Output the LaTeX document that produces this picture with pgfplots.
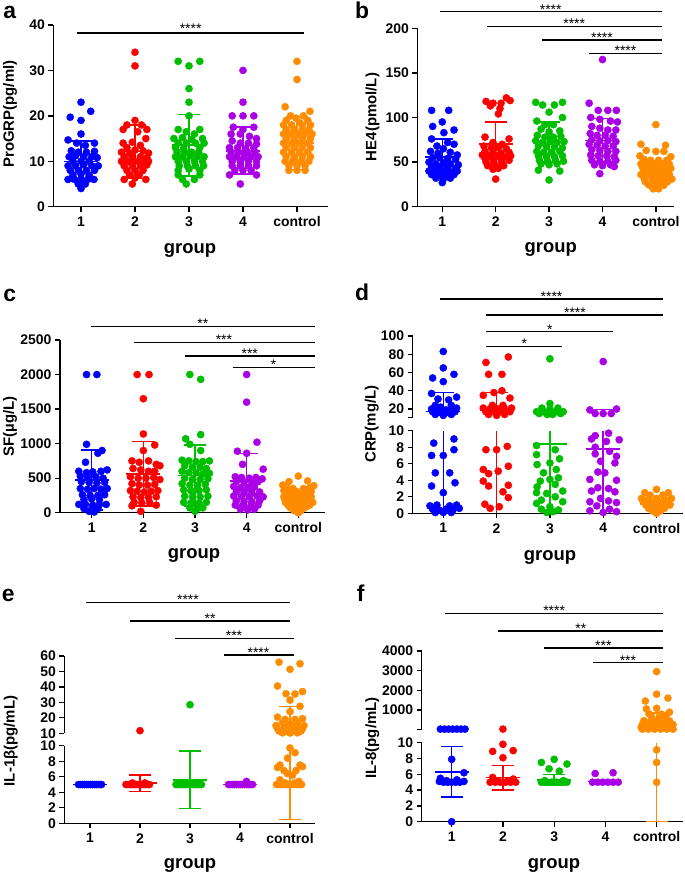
\documentclass[border=0pt]{standalone}
\usepackage{fontspec}
\setmainfont{Liberation Sans}
\usepackage{pgfplots}
\pgfplotsset{compat=1.18}

\definecolor{cb}{RGB}{0,0,255}
\definecolor{cr}{RGB}{255,0,0}
\definecolor{cg}{RGB}{0,190,0}
\definecolor{cp}{RGB}{170,0,230}
\definecolor{co}{RGB}{255,140,0}

\pgfplotsset{
  common/.style={scale only axis, anchor=south west, clip=false,
    axis line style={line width=1.3bp, black},
    x axis line style={-}, y axis line style={-},
    every inner x axis line/.append style={-}, every outer x axis line/.append style={-},
    every inner y axis line/.append style={-}, every outer y axis line/.append style={-},
    tick align=outside, major tick length=5bp,
    tick style={black, line width=1.3bp},
    tick label style={font=\bfseries\fontsize{14}{14}\selectfont},
    xticklabel style={yshift=-1.5bp},
    xtick={1,2,3,4,5}, xticklabels={1,2,3,4,control},
    scaled y ticks=false},
  lowerax/.style={axis lines=left, common},
  upperax/.style={axis y line=left, axis x line=none, common, xtick=\empty},
  dots/.style={only marks, mark=*, mark size=3.6bp, color=#1, mark options={solid, fill=#1, draw=#1}},
  sd/.style={color=#1, line width=1.5bp, mark=-, mark size=11bp, mark options={solid}},
  cap/.style={color=#1, only marks, line width=1.5bp, mark=-, mark size=11bp},
  mean/.style={color=#1, only marks, line width=1.5bp, mark=-, mark size=17bp},
  vline/.style={color=#1, line width=1.5bp, mark=none},
}
\tikzset{
  sig/.style={black, line width=1.3bp},
  stars/.style={font=\fontsize{14}{14}\selectfont, anchor=base, inner sep=0pt, yshift=-2.3bp},
  ylab/.style={rotate=90, font=\bfseries\fontsize{15}{15}\selectfont},
  grp/.style={font=\bfseries\fontsize{18.5}{18.5}\selectfont},
  letter/.style={font=\bfseries\fontsize{23}{23}\selectfont, anchor=base west, inner sep=0pt},
}

\begin{document}
\begin{tikzpicture}
\useasboundingbox (0bp,0bp) rectangle (685bp,-875bp);

% ---------------- a ----------------
\begin{axis}[lowerax, at={(53.3bp,-206.7bp)}, width=274.7bp, height=181.7bp,
  xmin=0.487, xmax=5.574, ymin=0, ymax=40,
  ytick={0,10,20,30,40}, yticklabels={0,10,20,30,40}]
\addplot[dots=cb] coordinates {(1,23)(1.18,21)(0.8,19.7)(1,19)(1,16)
 (0.76,14.7)(1.25,14)(0.92,14)(1.08,13.5)(0.82,12.3)(0.95,12)(1.1,12)(1.25,12.2)
 (0.78,11)(0.9,11.2)(1.05,11)(1.2,11)(1.3,10.8)(0.85,10)(1,10)(1.15,10)
 (0.76,9)(0.9,9)(1.05,9.2)(1.2,9)(1.32,9)(0.8,8)(0.95,8)(1.1,8)(1.25,8)
 (0.85,7)(1,7.2)(1.15,7)(0.76,6)(0.88,6)(1,6)(1.12,6)(1.24,6)(0.95,5)(1.08,5)(1,4)};
\addplot[dots=cr] coordinates {(2,34)(2,31)(2,19)(1.85,18)(2.12,18)(1.78,17)(2.22,17)(2.05,16.5)
 (2.2,15)(1.78,14)(1.95,14.2)(2.1,13.5)(1.85,13)(2,12.5)(2.15,12.3)(1.75,12)(1.9,11.8)(2.25,11.8)
 (1.8,11)(1.95,11)(2.1,11)(2.22,10.8)(1.75,10)(1.88,10)(2,10)(2.12,10)(2.25,10)
 (1.8,9)(1.95,9)(2.1,9)(2.22,9.2)(1.85,8)(2,8)(2.15,8)(1.9,7)(2.08,7)(1.8,6)(2.2,6)(2,6.3)(1.95,5)};
\addplot[dots=cg] coordinates {(2.8,32)(3,31)(3.2,32)(3,26)(3,23)(3,20)
 (2.8,17)(3.2,17)(2.95,16.5)(3.1,16)(2.72,15)(2.88,15.2)(3.25,15)(3.05,14.8)
 (2.8,14)(2.95,14)(3.12,14)(3.28,14)(2.75,13)(2.9,12.8)(3.2,13)
 (2.78,12)(2.92,12)(3.05,12)(3.18,12)(2.75,11)(2.88,11)(3.02,11.2)(3.15,11)(3.28,11)
 (2.8,10)(2.95,10)(3.1,10)(3.25,10)(2.82,9)(2.97,9)(3.12,9)(3.27,9)
 (2.8,8)(3.2,8)(3,8.3)(2.8,7)(3.2,7)(2.88,6)(3.1,6)(2.95,5)};
\addplot[dots=cp] coordinates {(4,30)(4,23)(3.8,20)(4,20)(4.2,20)(3.82,17.5)(4.2,17.5)(4,17)
 (3.78,16)(3.95,16)(4.12,15.5)(4.25,15)(3.8,14.5)(3.95,14)(4.1,14)(4.25,13.8)
 (3.75,13)(3.9,13)(4.05,12.8)(4.2,13)(3.78,12)(3.92,12)(4.08,12)(4.22,12)
 (3.75,11)(3.88,11)(4.02,11)(4.15,11)(4.28,11)(3.8,10)(3.95,10)(4.1,10)(4.25,10)
 (3.8,9)(3.95,9)(4.1,9)(4.25,9)(3.85,8)(4,8)(4.15,8)(3.75,7)(4.25,7)(3.95,5)};
\addplot[dots=co] coordinates {(5,32)(5,28)(4.78,22)(5.24,21)(4.88,20)(5.12,20)(4.98,19.5)
 (4.8,19)(5.2,19)(5.05,18.5)(4.75,18)(4.9,18)(5.1,18)(5.25,18)(4.8,17)(4.95,17)(5.1,17)(5.22,17)
 (4.75,16)(4.88,16)(5.02,16)(5.15,16)(5.28,16)(4.8,15)(4.95,15)(5.1,15)(5.25,15)
 (4.75,14)(4.9,14)(5.05,14)(5.2,14)(4.8,13)(4.95,13)(5.1,13)(5.25,13)
 (4.75,12)(4.9,12)(5.05,12)(5.2,12)(4.8,11)(4.95,11)(5.1,11)(5.25,11)
 (4.78,10)(4.92,10)(5.08,10)(5.22,10)(4.85,9)(5,9)(5.15,9)(4.85,8)(5,8)(5.15,8)};
\addplot[sd=cb] coordinates {(1,5.5)(1,14.5)};
\addplot[mean=cb] coordinates {(1,10)};
\addplot[sd=cr] coordinates {(2,6.2)(2,18)};
\addplot[mean=cr] coordinates {(2,12.2)};
\addplot[sd=cg] coordinates {(3,6.8)(3,20.3)};
\addplot[mean=cg] coordinates {(3,13.6)};
\addplot[sd=cp] coordinates {(4,7.2)(4,17.5)};
\addplot[mean=cp] coordinates {(4,12.3)};
\addplot[sd=co] coordinates {(5,8.2)(5,19.8)};
\addplot[mean=co] coordinates {(5,14)};
\draw[sig, line width=2.5bp] (axis cs:0.92,38.2) -- (axis cs:5.13,38.2);
\node[stars] at (axis cs:3.03,38.6) {****};
\end{axis}

% ---------------- b ----------------
\begin{axis}[lowerax, at={(417.3bp,-206.7bp)}, width=256.2bp, height=178.4bp,
  xmin=0.532, xmax=5.33, ymin=0, ymax=200,
  ytick={0,50,100,150,200}, yticklabels={0,50,100,150,200}]
\addplot[dots=cb] coordinates {(0.8,108)(1.12,108)(1,95)(0.82,90)(1.22,86)(1.03,83)
 (0.8,76)(1.1,72)(1.22,70)(0.9,68)(1.02,65)(0.78,62)(0.92,60)(1.15,61)(1.28,58)
 (0.82,55)(0.95,55)(1.1,54)(1.25,53)(0.75,50)(0.88,48)(1.02,49)(1.15,48)(1.3,47)
 (0.8,45)(0.95,44)(1.1,44)(1.25,43)(0.75,40)(0.88,40)(1.02,40)(1.15,39)(1.28,40)
 (0.8,36)(0.95,35)(1.1,35)(1.22,36)(0.88,32)(1.02,31)(1.15,32)(1,27)};
\addplot[dots=cr] coordinates {(1.82,118)(1.95,116)(2.2,122)(2.1,116)(2.27,119)(1.9,113)(2.08,110)(2.05,104)
 (1.8,78)(2.25,76)(1.95,72)(2.12,70)(1.78,68)(1.92,66)(2.05,66)(2.2,65)
 (1.8,62)(1.95,61)(2.1,60)(2.25,61)(1.75,58)(1.88,57)(2.02,57)(2.15,56)(2.28,57)
 (1.8,54)(1.95,53)(2.1,53)(2.25,52)(1.82,50)(1.97,49)(2.12,49)(1.85,46)(2,45)(2.15,46)
 (1.95,42)(2.05,43)(2,31)};
\addplot[dots=cg] coordinates {(2.75,117)(2.88,114)(3.1,114)(3.25,117)(3,106)(3.25,100)(2.77,96)
 (2.92,92)(3.08,92)(2.85,87)(3.2,85)(3,84)(2.78,80)(2.92,78)(3.08,78)(3.22,79)
 (2.75,74)(2.88,72)(3.02,73)(3.15,72)(3.28,73)(2.8,68)(2.95,67)(3.1,67)(3.25,66)
 (2.77,62)(2.9,61)(3.05,61)(3.2,62)(2.8,57)(2.95,56)(3.1,56)(3.25,57)
 (2.82,52)(2.97,51)(3.12,52)(3.27,51)(2.85,48)(3,47)(3.15,48)(2.8,41)(3.2,40)(3,30)};
\addplot[dots=cp] coordinates {(4,165)(3.75,116)(3.92,108)(4.1,108)(4.26,108)
 (3.78,100)(3.95,98)(4.15,96)(4.28,95)(3.8,90)(3.95,88)(4.1,86)(4.25,86)
 (3.77,82)(3.9,80)(4.05,80)(4.2,79)(3.8,75)(3.95,74)(4.1,74)(4.25,73)
 (3.75,70)(3.9,69)(4.05,68)(4.2,68)(3.8,64)(3.95,63)(4.1,62)(4.25,62)
 (3.78,58)(3.92,57)(4.08,57)(4.22,56)(3.8,52)(3.95,51)(4.1,51)(4.25,52)
 (3.85,47)(4,46)(4.15,47)(4.22,45)(3.95,37)};
\addplot[dots=co] coordinates {(5,92)(4.72,70)(5.18,69)(4.82,63)(5,62)(5.15,62)(4.7,57)(5.28,56)
 (4.78,53)(4.9,52)(5.05,52)(5.2,52)(4.72,48)(4.85,48)(4.98,47)(5.12,47)(5.25,48)
 (4.75,44)(4.88,44)(5.02,44)(5.15,44)(5.28,43)(4.78,40)(4.92,40)(5.05,40)(5.18,40)
 (4.72,36)(4.85,36)(4.98,36)(5.12,36)(5.25,36)(4.78,32)(4.92,32)(5.05,32)(5.18,32)(5.3,31)
 (4.8,28)(4.95,28)(5.1,28)(5.22,28)(4.88,24)(5.02,24)(5.15,24)(4.95,20)(5.05,20)};
\addplot[sd=cb] coordinates {(1,35)(1,76)};
\addplot[mean=cb] coordinates {(1,55.5)};
\addplot[sd=cr] coordinates {(2,46)(2,95)};
\addplot[mean=cr] coordinates {(2,70.5)};
\addplot[sd=cg] coordinates {(3,50)(3,95)};
\addplot[mean=cg] coordinates {(3,73)};
\addplot[sd=cp] coordinates {(4,50)(4,99)};
\addplot[mean=cp] coordinates {(4,74)};
\addplot[sd=co] coordinates {(5,23)(5,52)};
\addplot[mean=co] coordinates {(5,37.5)};
\draw[sig] (axis cs:0.957,218.6) -- (axis cs:5.11,218.6);
\node[stars] at (axis cs:3.03,218.6) {****};
\draw[sig] (axis cs:1.83,201.8) -- (axis cs:5.11,201.8);
\node[stars] at (axis cs:3.47,201.8) {****};
\draw[sig] (axis cs:2.87,186.9) -- (axis cs:5.11,186.9);
\node[stars] at (axis cs:3.99,186.9) {****};
\draw[sig] (axis cs:3.75,171.9) -- (axis cs:5.11,171.9);
\node[stars] at (axis cs:4.43,171.9) {****};
\end{axis}

% ---------------- c ----------------
\begin{axis}[lowerax, at={(60bp,-512.7bp)}, width=265bp, height=172.7bp,
  xmin=0.386, xmax=5.517, ymin=0, ymax=2500,
  ytick={0,500,1000,1500,2000,2500}, yticklabels={0,500,1000,1500,2000,2500}]
\addplot[dots=cb] coordinates {(0.9,2000)(1.1,2000)(0.9,990)(1.2,900)(1.12,860)(0.88,730)
 (0.75,600)(0.9,580)(1.02,590)(1.18,600)(1.3,620)(0.78,530)(0.92,510)(1.08,520)(1.22,500)
 (0.8,450)(0.95,440)(1.1,430)(1.25,440)(0.78,350)(0.92,340)(1.05,350)(1.18,340)(1.3,350)
 (0.82,260)(0.97,250)(1.12,250)(1.25,260)(0.85,190)(1,200)(1.15,190)
 (0.75,120)(0.88,120)(1.02,110)(1.15,120)(1.28,120)(0.85,60)(1,50)(1.12,60)(0.95,20)(1.05,10)};
\addplot[dots=cr] coordinates {(1.88,2000)(2.11,2000)(2,1650)(2,1140)(2.22,980)(2,900)
 (1.78,750)(1.92,730)(2.1,750)(2.25,700)(2.32,680)(1.8,640)(1.95,620)(2.1,600)(2.22,600)
 (1.75,520)(1.9,500)(2.05,500)(2.2,510)(2.32,480)(1.78,420)(1.92,400)(2.08,400)(2.22,410)
 (1.75,320)(1.88,310)(2.02,300)(2.15,310)(2.28,320)(1.8,230)(1.95,220)(2.1,220)(2.25,230)
 (1.82,150)(1.97,140)(2.12,150)(1.78,100)(2.25,110)(1.95,20)};
\addplot[dots=cg] coordinates {(2.9,2000)(3.11,1930)(3.11,1130)(2.82,1070)(2.9,990)(3.11,900)
 (2.75,760)(2.88,750)(3.02,740)(3.15,740)(3.28,750)(2.8,680)(2.95,660)(3.1,660)(3.22,640)
 (2.75,600)(2.88,580)(3.02,580)(3.15,560)(3.28,570)(2.8,500)(2.95,480)(3.1,480)(3.25,490)
 (2.75,420)(2.9,400)(3.05,400)(3.2,410)(2.78,330)(2.92,320)(3.08,320)(3.22,330)
 (2.8,240)(2.95,230)(3.1,230)(3.25,240)(2.78,150)(2.92,140)(3.08,140)(3.22,150)
 (2.9,70)(3.05,60)(3.15,70)(3,20)};
\addplot[dots=cp] coordinates {(4,2000)(4,1600)(4.2,1020)(3.82,890)(4,860)(3.92,700)(4.32,630)
 (3.78,520)(3.9,510)(4.05,500)(4.18,510)(4.3,490)(3.8,450)(3.95,440)(4.1,430)(4.22,450)
 (3.75,380)(3.88,360)(4.02,360)(4.15,370)(3.8,300)(3.95,290)(4.1,290)(4.25,300)
 (3.75,240)(3.9,230)(4.05,230)(4.2,240)(4.32,230)(3.8,170)(3.95,160)(4.1,160)(4.25,170)
 (3.78,110)(3.92,100)(4.08,100)(4.22,110)(3.88,50)(4.02,40)(4.15,50)};
\addplot[dots=co] coordinates {(5,530)(4.82,450)(5.18,460)(4.7,400)(5.3,390)
 (4.78,360)(4.9,350)(5.1,350)(5.22,360)(4.72,320)(4.85,310)(4.98,300)(5.12,300)(5.25,310)
 (4.78,270)(4.92,260)(5.05,260)(5.18,270)(4.72,230)(4.85,220)(4.98,220)(5.12,220)(5.25,230)
 (4.78,190)(4.92,180)(5.05,180)(5.18,190)(4.75,150)(4.88,140)(5.02,140)(5.15,140)(5.28,150)
 (4.8,110)(4.95,100)(5.1,100)(5.22,110)(4.85,70)(4.98,60)(5.12,70)(4.92,30)(5.05,30)(5,0)};
\addplot[sd=cb] coordinates {(1,40)(1,905)};
\addplot[mean=cb] coordinates {(1,473)};
\addplot[sd=cr] coordinates {(2,100)(2,1030)};
\addplot[mean=cr] coordinates {(2,560)};
\addplot[sd=cg] coordinates {(3,100)(3,980)};
\addplot[mean=cg] coordinates {(3,540)};
\addplot[sd=cp] coordinates {(4,60)(4,860)};
\addplot[mean=cp] coordinates {(4,460)};
\addplot[sd=co] coordinates {(5,50)(5,300)};
\addplot[mean=co] coordinates {(5,175)};
\draw[sig] (axis cs:0.98,2693) -- (axis cs:5.32,2693);
\node[stars] at (axis cs:3.15,2693) {**};
\draw[sig] (axis cs:1.81,2461) -- (axis cs:5.32,2461);
\node[stars] at (axis cs:3.56,2461) {***};
\draw[sig] (axis cs:2.81,2269) -- (axis cs:5.32,2269);
\node[stars] at (axis cs:4.06,2269) {***};
\draw[sig] (axis cs:3.73,2105) -- (axis cs:5.32,2105);
\node[stars] at (axis cs:4.52,2105) {*};
\end{axis}

% ---------------- d (lower) ----------------
\begin{axis}[lowerax, at={(412.7bp,-513.3bp)}, width=270.3bp, height=82.6bp,
  xmin=0.426, xmax=5.497, ymin=0, ymax=10,
  ytick={0,2,4,6,8,10}, yticklabels={0,2,4,6,8,10}]
\addplot[dots=cb] coordinates {(1.2,9)(0.82,8.5)(1.2,7.7)(0.78,7)(1,7)
 (0.85,4.9)(1.12,4.9)(1.22,3.7)(0.78,3.3)(1,2.5)(0.75,0.9)(0.88,1)(1.12,0.9)(1.25,1)
 (0.8,0.5)(0.92,0.4)(1.05,0.5)(1.18,0.4)(1.3,0.6)(0.85,0.1)(1,0.1)(1.15,0.1)};
\addplot[dots=cr] coordinates {(1.8,7.7)(2,7.7)(2.2,8.1)(1.75,5.3)(2.22,5.7)(1.85,4.8)(2.03,5.1)
 (1.75,3.9)(1.85,3.3)(2.22,3.4)(2.12,2.6)(2.22,1.9)(1.78,1.1)(2.05,0.8)(1.88,0.6)};
\addplot[dots=cg] coordinates {(2.75,8.2)(3.1,7.7)(2.75,7.1)(3.18,6.6)(3,6.1)(2.76,5.9)
 (3.12,5.3)(2.88,4.9)(3.16,4.3)(3,4.1)(2.82,3.9)(3.1,3.5)(2.76,3.2)(3.24,2.7)(2.75,2.5)
 (2.94,2.4)(3.1,2)(2.84,1.6)(3.24,1.4)(2.75,1.2)(3,0.8)(2.84,0.5)(3.16,0.4)(2.94,0.1)(3.06,0.2)};
\addplot[dots=cp] coordinates {(4.1,9.7)(3.85,9.4)(3.78,9)(4.3,8.9)(4.06,8.7)(3.85,8)(4.12,7.5)
 (3.85,7.2)(4.25,6.9)(3.95,6.3)(4.22,6.1)(3.9,5)(4.03,4.9)(3.75,4.1)(4.25,4)(3.9,3.1)(4.1,3)
 (3.78,2.7)(4.22,2.6)(3.95,1.8)(4.1,1.5)(3.75,1.4)(4.25,1.3)(3.88,0.9)(4.12,0.5)(3.75,0.3)(4.25,0.2)(4,0.1)};
\addplot[dots=co] coordinates {(5,2.9)(4.78,2.5)(5.22,2.5)(4.88,2.2)(5.12,2.2)
 (4.72,1.8)(4.85,1.7)(5,1.8)(5.15,1.7)(5.28,1.8)(4.75,1.4)(4.9,1.3)(5.05,1.3)(5.2,1.4)
 (4.8,1)(4.95,1)(5.1,1)(5.25,1)(4.85,0.6)(5,0.6)(5.15,0.6)(4.92,0.3)(5.08,0.3)(5,0)};
\addplot[vline=cb] coordinates {(1,0)(1,10)};
\addplot[vline=cr] coordinates {(2,0)(2,10)};
\addplot[vline=cg] coordinates {(3,0)(3,10)};
\addplot[mean=cg] coordinates {(3,8.4)};
\addplot[vline=cp] coordinates {(4,0)(4,10)};
\addplot[mean=cp] coordinates {(4,7.8)};
\addplot[sd=co] coordinates {(5,0.6)(5,1.6)};
\addplot[mean=co] coordinates {(5,1.1)};
\end{axis}

% ---------------- d (upper) ----------------
\begin{axis}[upperax, at={(412.7bp,-417.2bp)}, width=270.3bp, height=81.2bp,
  xmin=0.426, xmax=5.497, ymin=11, ymax=100,
  ytick={11,20,40,60,80,100}, yticklabels={,20,40,60,80,100}]
\addplot[dots=cb] coordinates {(1,83)(1,65)(0.8,54)(1.2,58)(1,50)
 (0.78,37)(0.9,31)(1.25,33)(1.1,30)(0.85,24)(1.15,24)(0.95,22)(1.25,21)
 (0.78,20)(0.92,19)(1.05,19)(1.18,20)(0.8,17)(0.95,16)(1.1,16)(1.22,17)(0.85,14)(1,13)(1.15,14)};
\addplot[dots=cr] coordinates {(2.22,77)(1.8,71)(1.85,58)(2.1,58)
 (2.1,40)(1.95,38)(1.75,35)(2.25,32)(1.92,24)(2.12,24)
 (1.75,21)(1.88,20)(2.02,20)(2.15,20)(2.28,21)(1.8,17)(1.95,17)(2.1,17)(2.25,17)(1.85,14)(2,13)(2.15,14)};
\addplot[dots=cg] coordinates {(3,75)(3,26)(2.85,21)(3.15,21)(3,20)
 (2.75,17)(2.88,17)(3.12,17)(3.25,17)(2.8,15)(3.2,15)(2.95,14)(3.05,14)};
\addplot[dots=cp] coordinates {(4,72)(3.75,19)(4.25,20)(3.85,15)(4,15)(4.15,15)};
\addplot[vline=cb] coordinates {(1,11)(1,38)};
\addplot[cap=cb] coordinates {(1,38)};
\addplot[mean=cb] coordinates {(1,17)};
\addplot[vline=cr] coordinates {(2,11)(2,38)};
\addplot[cap=cr] coordinates {(2,38)};
\addplot[mean=cr] coordinates {(2,18.5)};
\addplot[vline=cg] coordinates {(3,11)(3,19)};
\addplot[cap=cg] coordinates {(3,19)};
\addplot[vline=cp] coordinates {(4,11)(4,19.6)};
\addplot[cap=cp] coordinates {(4,19.6)};
\draw[sig] (axis cs:0.94,140.6) -- (axis cs:5.13,140.6);
\node[stars] at (axis cs:3.03,140.6) {****};
\draw[sig] (axis cs:1.81,123) -- (axis cs:5.13,123);
\node[stars] at (axis cs:3.47,123) {****};
\draw[sig] (axis cs:1.81,104.7) -- (axis cs:4.18,104.7);
\node[stars] at (axis cs:3,104.7) {*};
\draw[sig] (axis cs:1.81,88.3) -- (axis cs:3.22,88.3);
\node[stars] at (axis cs:2.52,88.3) {*};
\end{axis}

% ---------------- e (lower) ----------------
\begin{axis}[lowerax, at={(64.3bp,-823.3bp)}, width=250.7bp, height=77.6bp,
  xmin=0.486, xmax=5.5, ymin=0, ymax=10,
  ytick={0,2,4,6,8,10}, yticklabels={0,2,4,6,8,10}]
\addplot[dots=cb] coordinates {(0.77,5)(0.81,5)(0.85,5)(0.89,5)(0.93,5)(0.97,5)(1.01,5)(1.05,5)(1.09,5)(1.13,5)(1.17,5)(1.21,5)(1.23,5)};
\addplot[dots=cr] coordinates {(1.72,5)(1.76,5)(1.8,5)(1.84,5)(1.88,5)(1.92,5)(1.96,5)(2,5)(2.04,5)(2.08,5)(2.12,5)(2.16,5)(2.19,5)(1.85,5.2)(2.1,5.2)};
\addplot[dots=cg] coordinates {(2.72,5)(2.76,5)(2.8,5)(2.84,5)(2.88,5)(2.92,5)(2.96,5)(3,5)(3.04,5)(3.08,5)(3.12,5)(3.16,5)(3.2,5)(3.23,5)};
\addplot[dots=cp] coordinates {(3.77,5)(3.81,5)(3.85,5)(3.89,5)(3.93,5)(3.97,5)(4.01,5)(4.05,5)(4.09,5)(4.13,5)(4.17,5)(4.21,5)(4.25,5)(4.13,5.4)};
\addplot[dots=co] coordinates {(5,9.7)(5.1,9.1)(4.95,8.4)(4.8,7.5)(5.2,7.5)(4.75,7.2)(4.88,6.8)(5.12,6.8)
 (5.25,7.3)(4.95,6.4)(5.05,6.2)(4.8,5.6)(5.18,5.4)(4.9,5.2)(5.1,5.2)
 (4.73,5)(4.78,5)(4.83,5)(4.88,5)(4.93,5)(4.98,5)(5.03,5)(5.08,5)(5.13,5)(5.18,5)(5.23,5)};
\addplot[mean=cb] coordinates {(1,5)};
\addplot[sd=cr] coordinates {(2,4.1)(2,6.2)};
\addplot[mean=cr] coordinates {(2,5.2)};
\addplot[sd=cg] coordinates {(3,1.9)(3,9.3)};
\addplot[mean=cg] coordinates {(3,5.6)};
\addplot[mean=cp] coordinates {(4,5)};
\addplot[vline=co] coordinates {(5,0.5)(5,10)};
\addplot[cap=co] coordinates {(5,0.5)};
\end{axis}

% ---------------- e (upper) ----------------
\begin{axis}[upperax, at={(64.3bp,-733.3bp)}, width=250.7bp, height=77.3bp,
  xmin=0.486, xmax=5.5, ymin=10, ymax=60,
  ytick={10,20,30,40,50,60}, yticklabels={10,20,30,40,50,60}]
\addplot[dots=cr] coordinates {(2,11.7)};
\addplot[dots=cg] coordinates {(3,28.5)};
\addplot[dots=co] coordinates {(4.78,56)(5.2,55)(5,51.4)(4.75,40.6)(5.25,37)(4.92,35.6)(5.1,35.4)(5,31.5)(5.2,27.5)(5,24)
 (4.75,20.5)(5.25,19.5)(4.9,19)(5.1,19)(4.85,17)(5.15,16.5)(5,16)(4.72,15)(5.28,15)(4.9,14.5)(5.1,14.5)
 (4.75,13)(4.88,12.8)(5,13)(5.12,12.8)(5.25,13)(4.78,11.5)(4.92,11.3)(5.08,11.3)(5.22,11.5)
 (4.85,10.3)(5,10.2)(5.15,10.3)};
\addplot[vline=co] coordinates {(5,10)(5,27.3)};
\addplot[cap=co] coordinates {(5,27.3)};
\addplot[mean=co] coordinates {(5,13.7)};
\draw[sig] (axis cs:0.92,94.5) -- (axis cs:5,94.5);
\node[stars] at (axis cs:2.96,94.5) {****};
\draw[sig] (axis cs:1.8,82.6) -- (axis cs:5,82.6);
\node[stars] at (axis cs:3.4,82.6) {**};
\draw[sig] (axis cs:2.7,71.4) -- (axis cs:5.07,71.4);
\node[stars] at (axis cs:3.88,71.4) {***};
\draw[sig] (axis cs:3.68,60.6) -- (axis cs:5.07,60.6);
\node[stars] at (axis cs:4.37,60.6) {****};
\end{axis}

% ---------------- f (lower) ----------------
\begin{axis}[lowerax, at={(421.7bp,-821.7bp)}, width=261.6bp, height=79bp,
  xmin=0.415, xmax=5.52, ymin=0, ymax=10,
  ytick={0,2,4,6,8,10}, yticklabels={0,2,4,6,8,10}]
\addplot[dots=cb] coordinates {(1,7.9)(1.24,6.2)(0.78,5.5)(0.76,5.1)(0.84,5)(0.92,5)(1,5)(1.08,5)(1.16,5)(1.24,5.1)(1.1,5.3)(0.9,5.2)(1,0)};
\addplot[dots=cr] coordinates {(2,9.8)(1.8,8.9)(2.2,9)(2,8.1)(1.8,5.6)(2.2,5.4)(1.75,5)(1.85,5)(1.95,5)(2.05,5)(2.15,5)(2.25,5)(1.9,5.2)(2.1,5.2)};
\addplot[dots=cg] coordinates {(2.75,7.5)(3,7.9)(3.25,7.3)(2.9,6.7)(3.1,6.4)(2.75,5)(2.85,5)(2.95,5)(3.05,5)(3.15,5)(3.25,5)(2.82,5.2)(3.18,5.2)};
\addplot[dots=cp] coordinates {(3.8,6.1)(4.15,6.2)(3.75,5)(3.85,5)(3.95,5)(4.05,5)(4.15,5)(4.25,5)};
\addplot[dots=co] coordinates {(5,9.1)(5,7.5)(5,5)};
\addplot[sd=cb] coordinates {(1,3.1)(1,9.5)};
\addplot[mean=cb] coordinates {(1,6.3)};
\addplot[sd=cr] coordinates {(2,4)(2,7.1)};
\addplot[mean=cr] coordinates {(2,5.6)};
\addplot[sd=cg] coordinates {(3,4.6)(3,6)};
\addplot[mean=cg] coordinates {(3,5.3)};
\addplot[mean=cp] coordinates {(4,5.1)};
\addplot[vline=co] coordinates {(5,0)(5,10)};
\addplot[cap=co] coordinates {(5,0)};
\end{axis}

% ---------------- f (upper) ----------------
\begin{axis}[upperax, at={(421.7bp,-729.3bp)}, width=261.6bp, height=78.3bp,
  xmin=0.415, xmax=5.52, ymin=10, ymax=4000,
  ytick={10,1000,2000,3000,4000}, yticklabels={,1000,2000,3000,4000}]
\addplot[dots=cb] coordinates {(0.78,20)(0.86,20)(0.94,20)(1.02,20)(1.1,20)(1.18,20)(1.26,20)};
\addplot[dots=cr] coordinates {(2,20)};
\addplot[dots=co] coordinates {(5,2950)(5,1800)(5.22,1600)(4.78,1450)(4.8,1050)(5,1080)(5.25,880)
 (4.85,800)(5.1,780)(4.9,650)(5.05,600)(5.18,620)(4.75,450)(4.88,420)(5,430)(5.12,400)(5.25,440)
 (4.72,250)(4.85,230)(4.98,220)(5.1,230)(5.22,240)(5.32,250)(4.7,100)(4.82,90)(4.94,80)(5.06,90)(5.18,80)(5.3,100)
 (4.72,20)(4.84,20)(4.96,20)(5.08,20)(5.2,20)(5.32,20)};
\addplot[vline=co] coordinates {(5,10)(5,850)};
\addplot[cap=co] coordinates {(5,850)};
\addplot[mean=co] coordinates {(5,300)};
\draw[sig] (axis cs:0.87,5921) -- (axis cs:5.12,5921);
\node[stars] at (axis cs:3,5921) {****};
\draw[sig] (axis cs:1.91,5019) -- (axis cs:5.12,5019);
\node[stars] at (axis cs:3.52,5019) {**};
\draw[sig] (axis cs:2.8,4153) -- (axis cs:5.12,4153);
\node[stars] at (axis cs:3.96,4153) {***};
\draw[sig] (axis cs:3.76,3404) -- (axis cs:5.12,3404);
\node[stars] at (axis cs:4.44,3404) {***};
\end{axis}

% ---------------- labels ----------------
\node[letter] at (3.3bp,-18.3bp) {a};
\node[letter] at (355bp,-18.3bp) {b};
\node[letter] at (3.3bp,-301.7bp) {c};
\node[letter] at (355bp,-300bp) {d};
\node[letter] at (1.7bp,-601.7bp) {e};
\node[letter] at (356.7bp,-601.7bp) {f};

\node[ylab] at (10bp,-114bp) {ProGRP(pg/ml)};
\node[ylab] at (372.5bp,-117bp) {HE4(pmol/L)};
\node[ylab] at (10bp,-426.5bp) {SF(µg/L)};
\node[ylab] at (371.7bp,-424bp) {CRP(mg/L)};
\node[ylab] at (10.7bp,-741bp) {IL-1β(pg/mL)};
\node[ylab] at (372.3bp,-738bp) {IL-8(pg/mL)};

\node[grp] at (190bp,-250bp) {group};
\node[grp] at (550.7bp,-249bp) {group};
\node[grp] at (194bp,-555bp) {group};
\node[grp] at (550bp,-557bp) {group};
\node[grp] at (190bp,-865bp) {group};
\node[grp] at (554bp,-865bp) {group};
\end{tikzpicture}
\end{document}
